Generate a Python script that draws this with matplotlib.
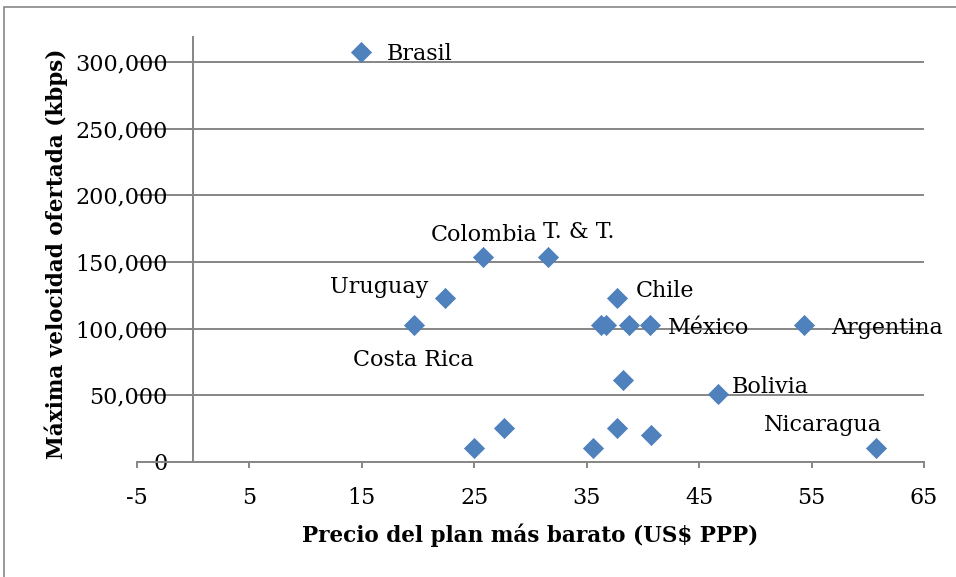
import matplotlib.pyplot as plt
from matplotlib.ticker import FuncFormatter, MultipleLocator
from matplotlib.patches import Rectangle

# precio del plan mas barato (US$ PPP) vs maxima velocidad ofertada (kbps)
precio = [14.9, 25.8, 31.6, 22.4, 19.6, 37.7, 36.3, 36.7, 38.8, 40.6, 54.3,
          38.2, 46.7, 25.0, 27.6, 35.6, 37.7, 40.7, 60.7]
velocidad = [307200, 153600, 153600, 122880, 102400, 122880, 102400, 102400,
             102400, 102400, 102400, 61440, 51200, 10240, 25600, 10240, 25600,
             20480, 10240]
etiquetas = ['Brasil', 'Colombia', 'T. & T.', 'Uruguay', 'Costa Rica', 'Chile',
             '', '', '', 'México', 'Argentina', '', 'Bolivia', '', '', '', '',
             '', 'Nicaragua']
# offsets of the data labels (points), and alignment
offsets = {'Brasil': (19, -1, 'left'),
           'Colombia': (39, 16, 'right'),
           'T. & T.': (-4, 18, 'left'),
           'Uruguay': (-12, 8, 'right'),
           'Costa Rica': (0, -25, 'center'),
           'Chile': (13.5, 5, 'left'),
           'México': (13, -2, 'left'),
           'Argentina': (19.5, -2, 'left'),
           'Bolivia': (10, 5, 'left'),
           'Nicaragua': (-38, 17, 'center')}

plt.rcParams['font.family'] = ['DejaVu Serif']
plt.rcParams['axes.unicode_minus'] = False
grey = '#868686'

fig = plt.figure(figsize=(9.56, 5.77), dpi=100)
ax = fig.add_axes([137/956, 115/577, 787/956, 425/577])

ax.scatter(precio, velocidad, marker='D', s=105, color='#4F81BD',
           edgecolor='#4A7EBB', linewidth=0.5, zorder=3, clip_on=False)

for x, y, lab in zip(precio, velocidad, etiquetas):
    if lab:
        dx, dy, ha = offsets[lab]
        ax.annotate(lab, (x, y), xytext=(dx, dy), textcoords='offset points',
                    ha=ha, va='center', fontsize=16)

ax.set_xlim(-5, 65)
ax.set_ylim(0, 318750)
ax.yaxis.set_major_locator(MultipleLocator(50000))
ax.yaxis.set_major_formatter(FuncFormatter(lambda v, p: f'{int(v):,}'))
ax.set_xticks(range(-5, 66, 10))

ax.grid(axis='y', color=grey, linewidth=1.4)
ax.set_axisbelow(True)
for s in ['top', 'right']:
    ax.spines[s].set_visible(False)
ax.spines['left'].set_position(('data', 0))
for s in ['left', 'bottom']:
    ax.spines[s].set_color(grey)
    ax.spines[s].set_linewidth(1.4)
ax.tick_params(axis='both', colors=grey, labelcolor='black', labelsize=16,
               length=4.5, width=1.4, direction='out')
ax.tick_params(axis='x', pad=13.5)
ax.tick_params(axis='y', pad=14)

fig.text(0.555, 0.072, 'Precio del plan más barato (US$ PPP)', ha='center',
         va='center', fontsize=15.5, fontweight='bold')
fig.text(0.059, 0.56, 'Máxima velocidad ofertada (kbps)', ha='center',
         va='center', fontsize=15.5, fontweight='bold', rotation=90)

# chart area border
fig.patches.append(Rectangle((4/956, -0.1), 1.1, (577-7)/577 + 0.1,
                             transform=fig.transFigure, fill=False,
                             edgecolor=grey, linewidth=1.2))

fig.savefig('out.png', dpi=100)
